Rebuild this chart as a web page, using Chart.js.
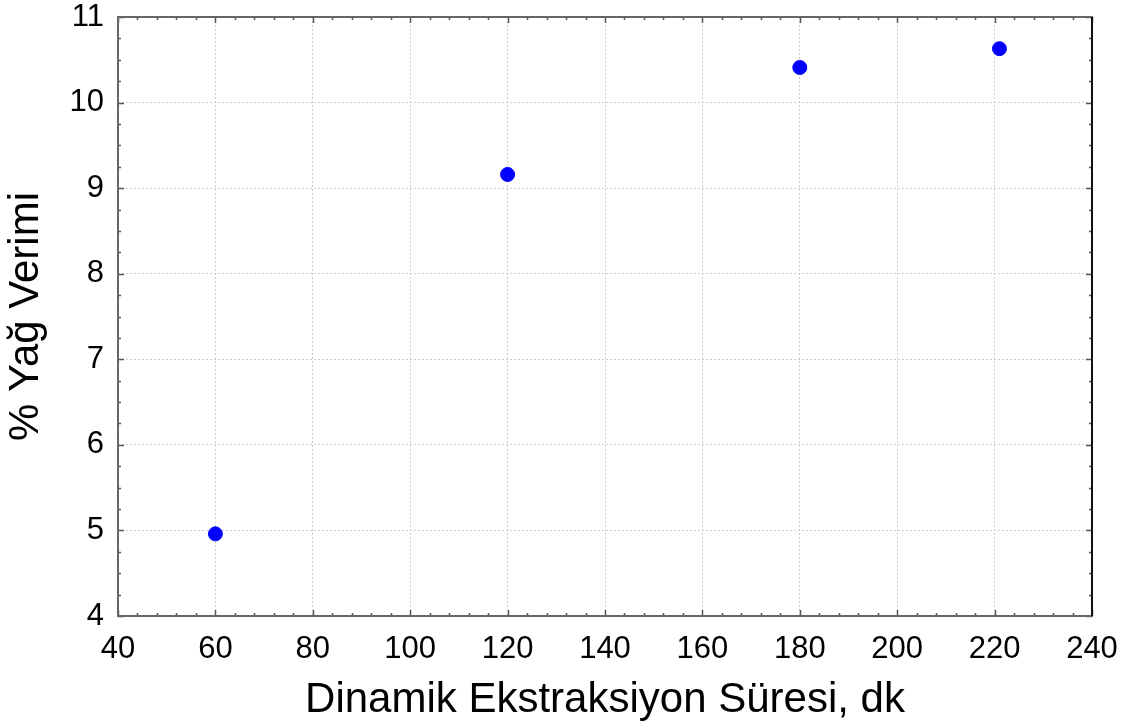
<!DOCTYPE html>
<html>
<head>
<meta charset="utf-8">
<script src="https://cdn.jsdelivr.net/npm/chart.js@4"></script>
<style>
  html, body { margin: 0; padding: 0; background: #fff; }
  #wrap { width: 1136px; height: 726px; }
</style>
</head>
<body>
<div id="wrap"><canvas id="yieldChart"></canvas></div>
<script>
// Dinamik ekstraksiyon süresi (dk) ve yağ verimi (%)
const extractionTimes = [60, 120, 180, 221];
const oilYields = [4.96, 9.16, 10.41, 10.63];

// Eksen sınırları ve adımları
const xRange = [40, 240];
const xStep = 20;
const xMinorStep = 4;
const yRange = [4, 11];
const yStep = 1;
const yMinorStep = 0.25;

const fontFamily = "'Liberation Sans', Arial, sans-serif";

// Çerçeve ve içe dönük tik çizgileri
const frameTicks = {
    id: "frameTicks",
    afterDatasetsDraw(chart) {
        const ctx = chart.ctx;
        const a = chart.chartArea;
        const xs = chart.scales.x;
        const ys = chart.scales.y;
        ctx.save();
        ctx.strokeStyle = "#555";
        ctx.lineWidth = 1.5;

        for (let v = xRange[0]; v <= xRange[1] + 1e-9; v += xMinorStep) {
            const px = Math.round(xs.getPixelForValue(v)) + 0.5;
            const len = (v % xStep === 0) ? 6 : 3;
            ctx.beginPath();
            ctx.moveTo(px, a.bottom); ctx.lineTo(px, a.bottom - len);
            ctx.moveTo(px, a.top); ctx.lineTo(px, a.top + len);
            ctx.stroke();
        }
        for (let v = yRange[0]; v <= yRange[1] + 1e-9; v += yMinorStep) {
            const py = Math.round(ys.getPixelForValue(v)) + 0.5;
            const len = (Math.abs(v - Math.round(v)) < 1e-9) ? 6 : 3;
            ctx.beginPath();
            ctx.moveTo(a.left, py); ctx.lineTo(a.left + len, py);
            ctx.moveTo(a.right, py); ctx.lineTo(a.right - len, py);
            ctx.stroke();
        }

        ctx.strokeStyle = "#666";
        ctx.lineWidth = 2;
        ctx.strokeRect(a.left, a.top, a.right - a.left, a.bottom - a.top);
        ctx.strokeStyle = "#111";
        ctx.beginPath();
        ctx.moveTo(a.right, a.top); ctx.lineTo(a.right, a.bottom);
        ctx.stroke();
        ctx.restore();
    }
};

new Chart(document.getElementById("yieldChart"), {
    type: "scatter",
    data: {
        datasets: [{
            label: "% Yağ Verimi",
            data: extractionTimes.map((t, i) => ({ x: t, y: oilYields[i] })),
            backgroundColor: "#0000ff",
            borderColor: "#0000ff",
            pointRadius: 7,
            pointHoverRadius: 7,
        }],
    },
    options: {
        responsive: true,
        maintainAspectRatio: false,
        animation: false,
        events: [],
        layout: { padding: { top: 17, right: 44, left: 0, bottom: 0 } },
        plugins: {
            legend: { display: false },
            tooltip: { enabled: false },
        },
        scales: {
            x: {
                type: "linear",
                min: xRange[0],
                max: xRange[1],
                afterFit: (s) => {
                    s.height = 110;
                    s.paddingLeft = 0;
                    s.paddingRight = 0;
                },
                ticks: {
                    stepSize: xStep,
                    color: "#000",
                    padding: 15,
                    maxRotation: 0,
                    font: { family: fontFamily, size: 31 },
                },
                grid: { color: "#cfcfcf", lineWidth: 1, drawTicks: false },
                border: { display: false, dash: [2, 2] },
                title: {
                    display: true,
                    text: "Dinamik Ekstraksiyon Süresi, dk",
                    color: "#000",
                    font: { family: fontFamily, size: 42 },
                    padding: { top: 1, bottom: 0 },
                },
            },
            y: {
                type: "linear",
                min: yRange[0],
                max: yRange[1],
                afterFit: (s) => {
                    s.width = 118;
                    s.paddingTop = 0;
                    s.paddingBottom = 0;
                },
                ticks: {
                    stepSize: yStep,
                    color: "#000",
                    padding: 14,
                    font: { family: fontFamily, size: 31 },
                },
                grid: { color: "#cfcfcf", lineWidth: 1, drawTicks: false },
                border: { display: false, dash: [2, 2] },
                title: {
                    display: true,
                    text: "% Yağ Verimi",
                    color: "#000",
                    font: { family: fontFamily, size: 42 },
                    padding: { top: 1, bottom: 0 },
                },
            },
        },
    },
    plugins: [frameTicks],
});
</script>
</body>
</html>
